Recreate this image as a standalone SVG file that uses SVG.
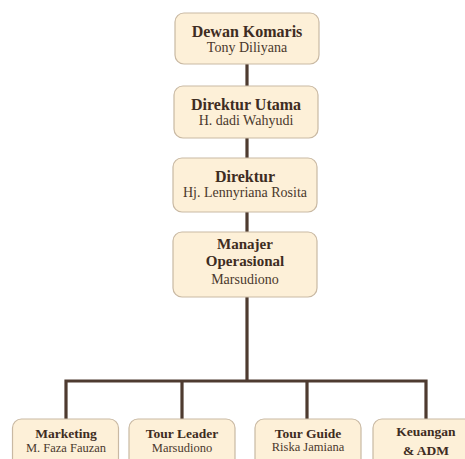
<svg xmlns="http://www.w3.org/2000/svg" width="465" height="459" viewBox="0 0 465 459">
<style>
.box{fill:#fdf0d8;stroke:#c9b9a3;stroke-width:1.2}
.t{font-family:"Liberation Serif",serif;font-weight:bold;fill:#3e2c22;text-anchor:middle}
.s{font-family:"Liberation Serif",serif;fill:#4a382c;text-anchor:middle}
.big{font-size:16px}
.mid{font-size:15px}
.sm{font-size:13.5px}
.sub{font-size:14px}
.subsm{font-size:12.5px}
.c{stroke:#4e3b30;stroke-width:3.2;fill:none}
</style>
<rect width="465" height="459" fill="#ffffff"/>
<g id="connectors">
<line class="c" x1="247" y1="64" x2="247" y2="86"/>
<line class="c" x1="247" y1="138" x2="247" y2="158"/>
<line class="c" x1="247" y1="212" x2="247" y2="232"/>
<line class="c" x1="247" y1="297" x2="247" y2="381"/>
<polyline class="c" points="66,419 66,381 426,381 426,419"/>
<line class="c" x1="182" y1="381" x2="182" y2="419"/>
<line class="c" x1="307" y1="381" x2="307" y2="419"/>
</g>
<g id="dewan">
<rect class="box" x="175" y="13" width="144" height="51" rx="9"/>
<text class="t big" x="247" y="37">Dewan Komaris</text>
<text class="s sub" x="247" y="52">Tony Diliyana</text>
</g>
<g id="dirut">
<rect class="box" x="174" y="86" width="144" height="52" rx="9"/>
<text class="t big" x="246" y="110">Direktur Utama</text>
<text class="s sub" x="246" y="125">H. dadi Wahyudi</text>
</g>
<g id="direktur">
<rect class="box" x="173" y="158" width="144" height="54" rx="9"/>
<text class="t big" x="245" y="182">Direktur</text>
<text class="s sub" x="245" y="197">Hj. Lennyriana Rosita</text>
</g>
<g id="manajer">
<rect class="box" x="173" y="232" width="144" height="65" rx="9"/>
<text class="t mid" x="245" y="249">Manajer</text>
<text class="t mid" x="245" y="266">Operasional</text>
<text class="s sub" x="245" y="284">Marsudiono</text>
</g>
<g id="marketing">
<rect class="box" x="12.5" y="419" width="106" height="50" rx="9"/>
<text class="t sm" x="66" y="438">Marketing</text>
<text class="s subsm" x="66" y="452">M. Faza Fauzan</text>
</g>
<g id="tourleader">
<rect class="box" x="129" y="419" width="106" height="50" rx="9"/>
<text class="t sm" x="182" y="438">Tour Leader</text>
<text class="s subsm" x="182" y="452">Marsudiono</text>
</g>
<g id="tourguide">
<rect class="box" x="255" y="419" width="106" height="50" rx="9"/>
<text class="t sm" x="308" y="438">Tour Guide</text>
<text class="s subsm" x="308" y="451">Riska Jamiana</text>
</g>
<g id="keuangan">
<rect class="box" x="373" y="419" width="106" height="50" rx="9"/>
<text class="t sm" x="426" y="436">Keuangan</text>
<text class="t sm" x="426" y="455">&amp; ADM</text>
</g>
</svg>
